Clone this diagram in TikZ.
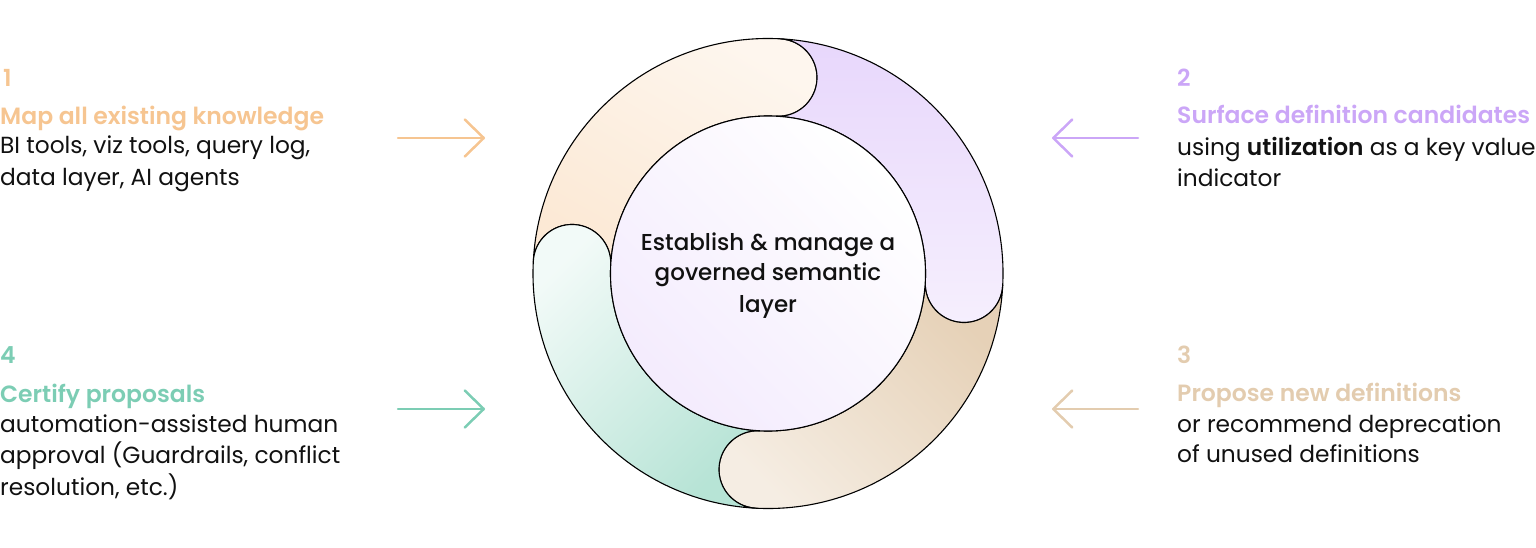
\documentclass[tikz,border=0pt]{standalone}
\usepackage{fontspec}
\setmainfont{Poppins}
\newfontfamily\semibfont{Poppins SemiBold}
\newfontfamily\medfont{Poppins Medium}
\usetikzlibrary{arrows.meta}
\definecolor{cOrange}{HTML}{F6C591}
\definecolor{cPurple}{HTML}{CBA6F7}
\definecolor{cTan}{HTML}{E3CCAF}
\definecolor{cGreen}{HTML}{7CCDB4}
\definecolor{cText}{HTML}{111111}
\newcommand\segpath[2]{(#1:235) arc[start angle=#1, end angle=#2, radius=235] arc[start angle=#2, end angle=#2-180, radius=38.75] arc[start angle=#2, end angle=#1, radius=157.5] arc[start angle=#1-180, end angle=#1, radius=38.75] -- cycle}
\tikzset{
  seg/.style={draw=black, line width=1.1pt},
  numtxt/.style={anchor=base west, inner sep=0pt, font=\fontsize{23.5}{24}\semibfont},
  headtxt/.style={anchor=base west, inner sep=0pt, font=\fontsize{23.5}{24}\semibfont},
  bodytxt/.style={anchor=base west, inner sep=0pt, text=cText, font=\fontsize{23.3}{24}\selectfont},
  centertxt/.style={anchor=base, inner sep=0pt, text=cText, font=\fontsize{23}{24}\medfont},
  flowarrow/.style={line width=2.5pt, line cap=round, -{Straight Barb[length=19pt, width=37pt, line cap=round, line join=round]}},
}
\begin{document}
\begin{tikzpicture}[x=1pt,y=1pt]
\useasboundingbox (0,0) rectangle (1536,547);
\begin{scope}[shift={(768,273.5)}]
  \draw[seg, top color=cOrange!15!white, bottom color=cOrange!38!white, shading angle=-30] \segpath{177}{87};
  \draw[seg, top color=cPurple!45!white, bottom color=cPurple!18!white, shading angle=0] \segpath{87}{-3};
  \draw[seg, top color=cTan!90!white, bottom color=cTan!35!white, shading angle=-45] \segpath{-3}{-93};
  \draw[seg, top color=cGreen!10!white, bottom color=cGreen!55!white, shading angle=45] \segpath{-93}{-183};
  \node[draw=black, line width=1.1pt, circle, minimum size=315pt, inner sep=0pt, top color=white, bottom color=cPurple!22!white, shading angle=-45] (hub) at (0,0) {};
\end{scope}
\node[centertxt] (c1) at (768,297) {Establish \& manage a};
\node[centertxt] (c2) at (768,267) {governed semantic};
\node[centertxt] (c3) at (768,235) {layer};
% block 1
\node[numtxt, text=cOrange] (n1) at (3,460) {1};
\node[headtxt, text=cOrange] (h1) at (0,422) {Map all existing knowledge};
\node[bodytxt] (b1a) at (0,393) {BI tools, viz tools, query log,};
\node[bodytxt] (b1b) at (0,361) {data layer, AI agents};
% block 2
\node[numtxt, text=cPurple] (n2) at (1177,460) {2};
\node[headtxt, text=cPurple] (h2) at (1177,423) {Surface definition candidates};
\node[bodytxt] (b2a) at (1177,391) {using {\semibfont utilization} as a key value};
\node[bodytxt] (b2b) at (1177,360) {indicator};
% block 3
\node[numtxt, text=cTan] (n3) at (1177,184) {3};
\node[headtxt, text=cTan] (h3) at (1177,146) {Propose new definitions};
\node[bodytxt] (b3a) at (1177,115) {or recommend deprecation};
\node[bodytxt] (b3b) at (1177,85) {of unused definitions};
% block 4
\node[numtxt, text=cGreen] (n4) at (0,184) {4};
\node[headtxt, text=cGreen] (h4) at (0,145) {Certify proposals};
\node[bodytxt] (b4a) at (0,115) {automation-assisted human};
\node[bodytxt] (b4b) at (0,84) {approval (Guardrails, conflict};
\node[bodytxt] (b4c) at (0,52) {resolution, etc.)};
% arrows
\coordinate (a1s) at (398,409); \coordinate (a1e) at (485,409);
\coordinate (a2s) at (1138,409); \coordinate (a2e) at (1052,409);
\coordinate (a3s) at (1138,138); \coordinate (a3e) at (1052,138);
\coordinate (a4s) at (398,138); \coordinate (a4e) at (485,138);
\draw[flowarrow, cOrange] (a1s) -- (a1e);
\draw[flowarrow, cPurple] (a2s) -- (a2e);
\draw[flowarrow, cTan] (a3s) -- (a3e);
\draw[flowarrow, cGreen] (a4s) -- (a4e);
\end{tikzpicture}
\end{document}
